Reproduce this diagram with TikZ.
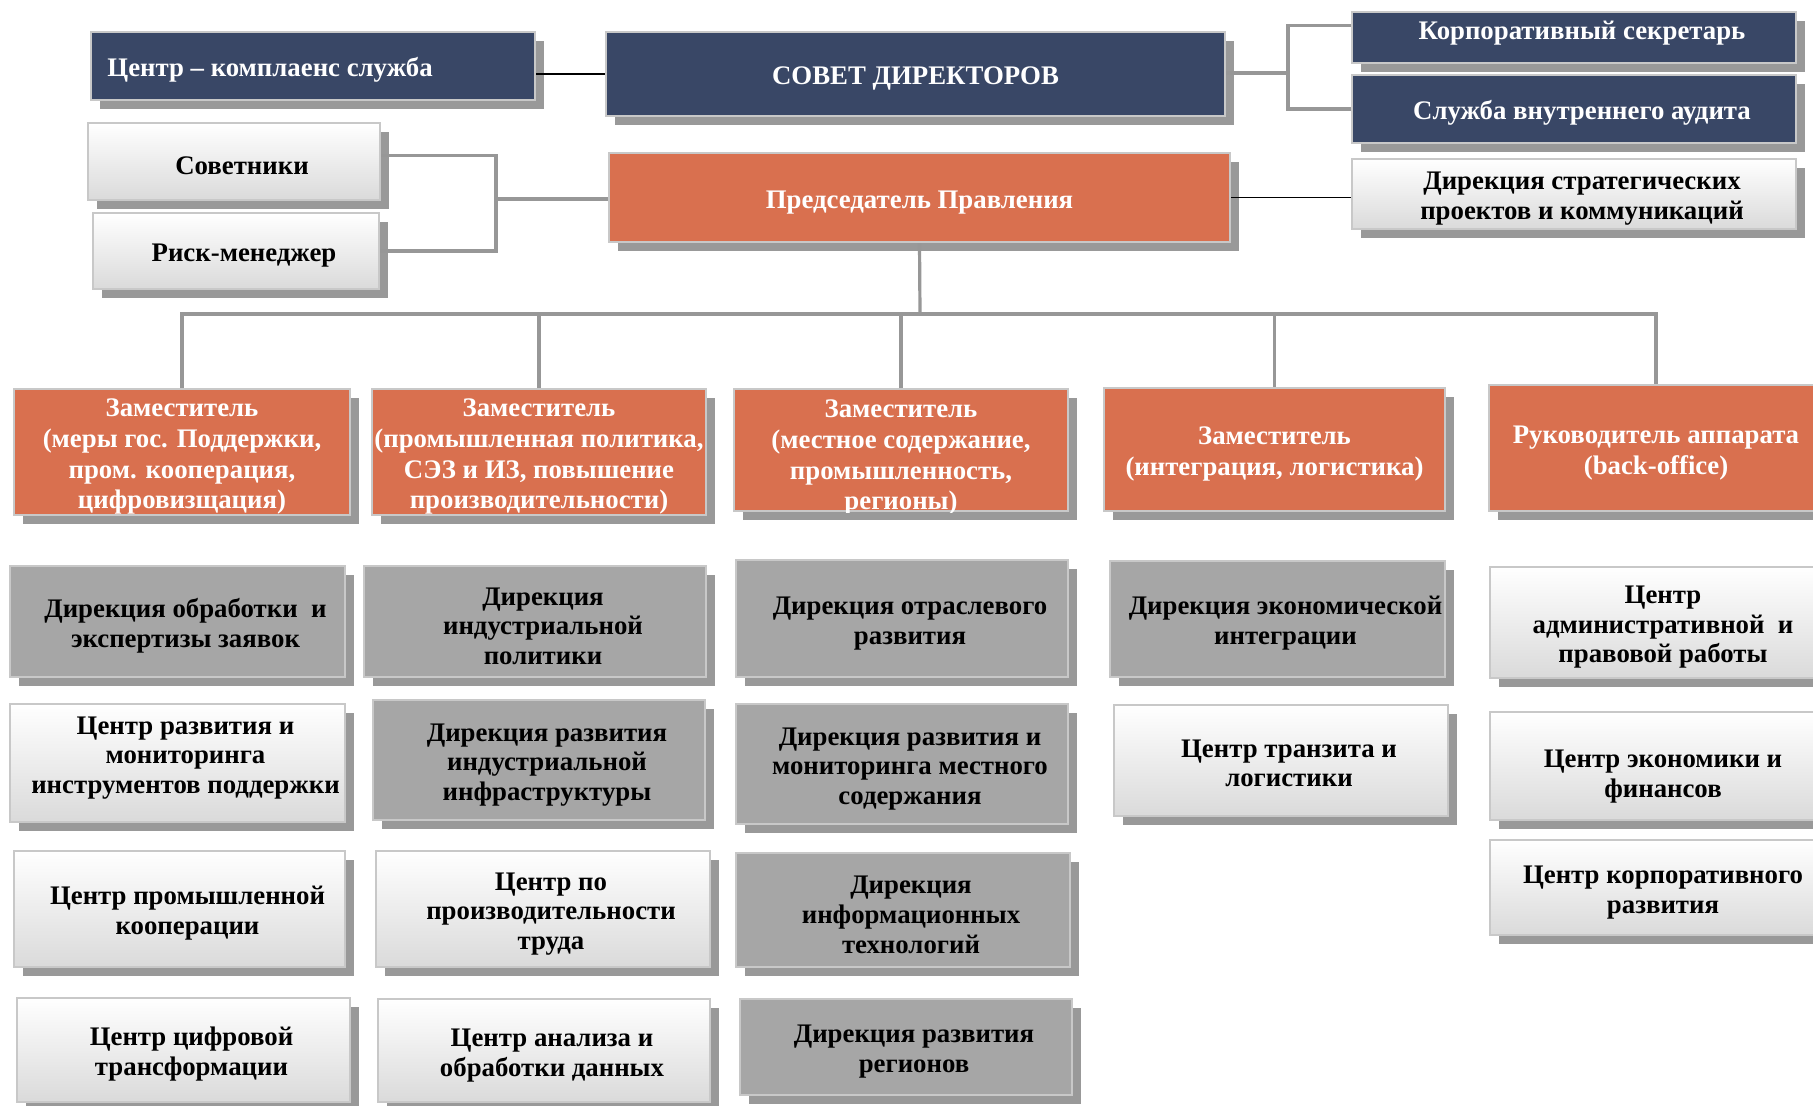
\documentclass[tikz,border=0pt]{standalone}
\usepackage{fontspec}
\setmainfont{Liberation Serif}
\usetikzlibrary{shadows}
\definecolor{navy}{HTML}{394766}
\definecolor{orangec}{HTML}{D9704F}
\definecolor{boxgray}{HTML}{A6A6A6}
\definecolor{bordergray}{HTML}{C8C8C8}
\definecolor{shadowgray}{HTML}{999999}
\definecolor{gradbottom}{HTML}{DADADA}
\definecolor{conngray}{HTML}{979797}
\tikzset{
  boxbase/.style={draw=bordergray, line width=1pt, inner sep=0pt,
    drop shadow={shadow xshift=4.5pt, shadow yshift=-4.5pt, fill=shadowgray, opacity=1}},
  txt/.style={inner sep=0pt, align=center, font=\bfseries\fontsize{13.4}{14.8}\selectfont},
  navy box/.style={boxbase, fill=navy},
  navy text/.style={text=white},
  orange box/.style={boxbase, fill=orangec},
  orange text/.style={text=white, font=\bfseries\fontsize{13.4}{15.4}\selectfont},
  gray box/.style={boxbase, fill=boxgray},
  gray text/.style={text=black},
  white box/.style={boxbase, top color=white, bottom color=gradbottom},
  white text/.style={text=black},
  conn/.style={draw=conngray, line width=1.6pt},
  thinline/.style={draw=black, line width=0.7pt},
}
\newcommand\tstrut{\rule{0pt}{13.6pt}}
\newcommand\orgbox[8][xshift=4pt]{%
  \node[#3 box, minimum width={(#6-#4)*0.5pt}, minimum height={(#7-#5)*0.5pt}] (#2)
    at ({(#4+#6)/2},{(#5+#7)/2}) {};
  \node[txt, #3 text, #1] (#2-t) at (#2.center) {\tstrut#8};}
\begin{document}
\begin{tikzpicture}[x=0.5pt,y=-0.5pt]
\useasboundingbox (0,0) rectangle (1813,1105);
\fill[white] (0,0) rectangle (1813,1105);
\clip (0,0) rectangle (1813,1105);

% top level
\node[navy box, minimum width={(535-91)*0.5pt}, minimum height={(100-32)*0.5pt}] (comp)
  at ({(91+535)/2},{(32+100)/2}) {};
\node[txt, navy text, anchor=west, xshift=8.5pt] (comp-t) at (comp.west) {\tstrut Центр – комплаенс служба};
\orgbox[xshift=0pt]{sovet}{navy}{606}{32}{1225}{116}{СОВЕТ ДИРЕКТОРОВ}
\orgbox[xshift=4pt, yshift=4.5pt]{secr}{navy}{1352}{12}{1796}{63}{Корпоративный секретарь}
\orgbox{audit}{navy}{1352}{75}{1796}{143}{Служба внутреннего аудита}
\orgbox{advis}{white}{88}{123}{380}{200}{Советники}
\orgbox{risk}{white}{93}{213}{379}{289}{Риск-менеджер}
\orgbox[xshift=0pt]{chair}{orange}{609}{153}{1230}{242}{Председатель Правления}
\orgbox{strat}{white}{1352}{159}{1796}{229}{Дирекция стратегических\\проектов и коммуникаций}

% deputies
\orgbox[xshift=0pt]{z1}{orange}{14}{389}{350}{515}{Заместитель\\(меры гос. Поддержки,\\пром. кооперация,\\цифровизщация)}
\orgbox[xshift=0pt]{z2}{orange}{372}{389}{706}{515}{Заместитель\\(промышленная политика,\\СЭЗ и ИЗ, повышение\\производительности)}
\node[orange box, minimum width={(1068-734)*0.5pt}, minimum height={(511-389)*0.5pt}] (z3)
  at ({(734+1068)/2},{(389+511)/2}) {};
\begin{scope}
  \clip (z3.south west) rectangle (z3.north east);
  \node[txt, orange text, yshift=-1.5pt] (z3-t) at (z3.center)
    {\tstrut Заместитель\\(местное содержание,\\промышленность,\\регионы)};
\end{scope}
\orgbox[xshift=0pt]{z4}{orange}{1104}{388}{1445}{511}{Заместитель\\(интеграция, логистика)}
\orgbox[xshift=0pt]{z5}{orange}{1489}{385}{1823}{511}{Руководитель аппарата\\(back-office)}

% column 1
\orgbox{c11}{gray}{10}{566}{345}{677}{Дирекция обработки\ \ и\\экспертизы заявок}
\orgbox[xshift=4pt, yshift=5pt]{c12}{white}{10}{704}{345}{822}{Центр развития и\\мониторинга\\инструментов поддержки}
\orgbox{c13}{white}{14}{851}{345}{967}{Центр промышленной\\кооперации}
\orgbox{c14}{white}{17}{998}{350}{1102}{Центр цифровой\\трансформации}
% column 2
\orgbox{c21}{gray}{364}{566}{706}{677}{Дирекция\\индустриальной\\политики}
\orgbox{c22}{gray}{373}{700}{705}{820}{Дирекция развития\\индустриальной\\инфраструктуры}
\orgbox{c23}{white}{376}{851}{710}{967}{Центр по\\производительности\\труда}
\orgbox{c24}{white}{378}{999}{710}{1102}{Центр анализа и\\обработки данных}
% column 3
\orgbox{c31}{gray}{736}{560}{1068}{677}{Дирекция отраслевого\\развития}
\orgbox{c32}{gray}{736}{704}{1068}{824}{Дирекция развития и\\мониторинга местного\\содержания}
\orgbox{c33}{gray}{736}{853}{1070}{967}{Дирекция\\информационных\\технологий}
\orgbox{c34}{gray}{740}{999}{1072}{1095}{Дирекция развития\\регионов}
% column 4
\orgbox{c41}{gray}{1110}{561}{1445}{677}{Дирекция экономической\\интеграции}
\orgbox[xshift=4pt, yshift=1pt]{c42}{white}{1114}{705}{1448}{816}{Центр транзита и\\логистики}
% column 5
\orgbox[xshift=0pt]{c51}{white}{1490}{567}{1836}{678}{Центр\\административной\ \ и\\правовой работы}
\orgbox[xshift=0pt, yshift=-3pt]{c52}{white}{1490}{712}{1836}{820}{Центр экономики и\\финансов}
\orgbox[xshift=0pt]{c53}{white}{1490}{840}{1836}{935}{Центр корпоративного\\развития}

% connectors
\draw[thinline] (comp.east |- sovet.west) -- (sovet.west);
\coordinate (bj) at (1288,73);
\draw[conn] (sovet.east |- bj) -- (bj);
\draw[conn] ([yshift=6pt]secr.west) -| (bj) |- (audit.west);
\coordinate (hub) at (496,199);
\draw[conn] ([yshift=3pt]advis.east) -| (hub) |- (risk.east);
\draw[conn] (hub) -- (chair.west |- hub);
\draw[thinline] (chair.east) -- (strat.west |- chair.east);
\coordinate (bus) at (920,314);
\draw[conn] (chair.south) -- (bus);
\draw[conn] (z1.north) |- (z5.north |- bus) -- (z5.north);
\draw[conn] (z2.north) -- (z2.north |- bus);
\draw[conn] (z3.north) -- (z3.north |- bus);
\draw[conn] (z4.north) -- (z4.north |- bus);
\end{tikzpicture}
\end{document}
